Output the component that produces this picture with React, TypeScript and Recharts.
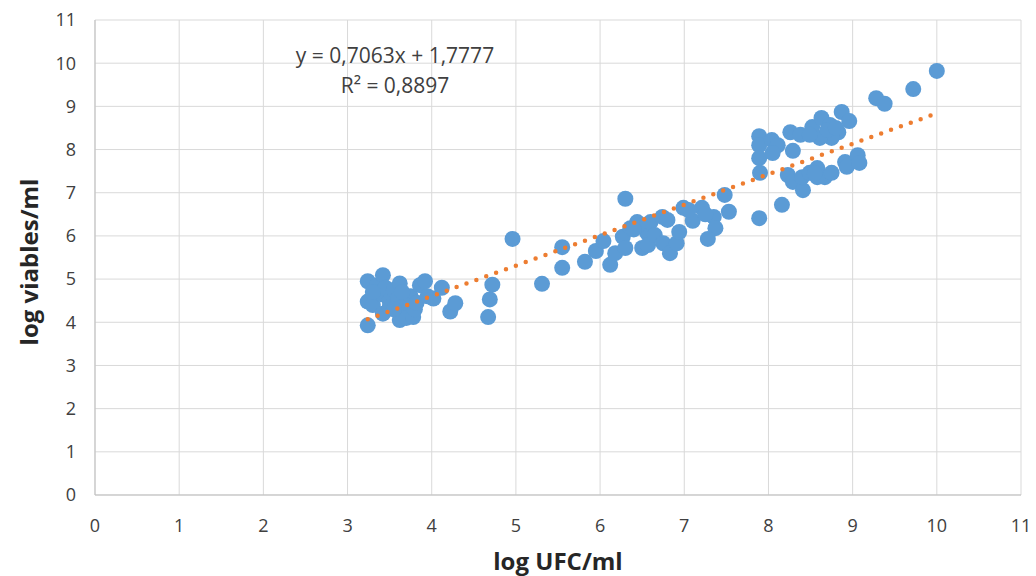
import React from "react";
import {
  ScatterChart,
  Scatter,
  XAxis,
  YAxis,
  CartesianGrid,
} from "recharts";

// log UFC/ml
const xValues = [
  3.24, 3.24, 3.24, 3.3, 3.35, 3.42, 3.4, 3.45, 3.42, 3.5, 3.55, 3.5, 3.6, 3.62, 3.62, 3.68, 3.7, 3.75,
  3.78, 3.8, 3.82, 3.86, 3.92, 3.95, 4.02, 4.12, 4.22, 4.28, 4.67, 4.69, 4.72, 3.3, 3.65, 3.55,
  4.96, 5.31, 5.55, 5.55, 5.82, 5.95, 6.04, 6.12, 6.18, 6.3, 6.27, 6.3, 6.36, 6.44, 6.5, 6.56, 6.6,
  6.57, 6.65, 6.74, 6.8, 6.75, 6.83, 6.91, 6.94, 6.99, 7.1, 7.21, 7.35, 7.37, 7.28, 7.48, 7.53,
  7.05, 7.25, 6.45, 6.4,
  10.0, 9.72, 9.28, 9.38, 7.89, 7.89, 7.89, 7.9, 7.89, 8.16, 8.04, 8.11, 8.05, 8.29, 8.26, 8.38,
  8.52, 8.63, 8.73, 8.87, 8.96, 8.83, 8.75, 8.61, 8.49, 8.23, 8.29, 8.41, 8.4, 8.49, 8.58, 8.58,
  8.67, 8.75, 8.91, 8.93, 9.06, 9.08, 8.7, 8.8, 8.55,
];
// log viables/ml
const yValues = [
  3.93, 4.95, 4.48, 4.4, 4.85, 5.09, 4.65, 4.8, 4.2, 4.5, 4.75, 4.35, 4.55, 4.9, 4.05, 4.4, 4.1, 4.6,
  4.12, 4.3, 4.45, 4.86, 4.95, 4.6, 4.55, 4.8, 4.25, 4.44, 4.12, 4.53, 4.87, 4.7, 4.7, 4.3,
  5.93, 4.89, 5.74, 5.26, 5.4, 5.65, 5.88, 5.33, 5.6, 6.86, 5.98, 5.72, 6.18, 6.32, 5.72, 6.07, 6.32,
  5.79, 6.02, 6.44, 6.37, 5.83, 5.6, 5.83, 6.09, 6.65, 6.35, 6.65, 6.44, 6.18, 5.93, 6.95, 6.56,
  6.6, 6.5, 6.25, 6.15,
  9.82, 9.4, 9.19, 9.06, 8.31, 8.1, 7.8, 7.46, 6.41, 6.72, 8.22, 8.1, 7.92, 7.97, 8.4, 8.34,
  8.52, 8.73, 8.57, 8.87, 8.66, 8.4, 8.27, 8.27, 8.34, 7.41, 7.25, 7.06, 7.36, 7.46, 7.57, 7.36,
  7.36, 7.46, 7.71, 7.6, 7.87, 7.69, 8.45, 8.5, 7.45,
];

// linear trendline end points
const trendX = [3.24, 10.0];
const trendY = [4.07, 8.84];

const ticks = [0, 1, 2, 3, 4, 5, 6, 7, 8, 9, 10, 11];

const points = xValues.map((x, i) => ({ x, y: yValues[i] }));
const trend = trendX.map((x, i) => ({ x, y: trendY[i] }));

const font = "'Open Sans', 'Noto Sans', sans-serif";
const textColor = "#404040";

const Dot = (props: any) => (
  <circle cx={props.cx} cy={props.cy} r={8} fill="#5b9bd5" />
);

export default function App() {
  return (
    <div style={{ position: "absolute", left: 0, top: 0, background: "#fff", fontFamily: font }}>
      <ScatterChart
        width={1036}
        height={576}
        margin={{ top: 20, right: 15, left: 0, bottom: 0 }}
      >
        <CartesianGrid stroke="#d9d9d9" strokeWidth={1} />
        <XAxis
          type="number"
          dataKey="x"
          domain={[0, 11]}
          ticks={ticks}
          interval={0}
          height={81}
          tickSize={0}
          tickMargin={24}
          axisLine={{ stroke: "#bfbfbf" }}
          tick={{ fontSize: 18, fill: textColor, fontFamily: font }}
        />
        <YAxis
          type="number"
          dataKey="y"
          domain={[0, 11]}
          ticks={ticks}
          interval={0}
          width={95}
          tickSize={0}
          tickMargin={19}
          axisLine={{ stroke: "#bfbfbf" }}
          tick={{ fontSize: 18, fill: textColor, fontFamily: font }}
        />
        <Scatter data={points} shape={Dot} isAnimationActive={false} />
        <Scatter
          data={trend}
          isAnimationActive={false}
          shape={() => <g />}
          line={{
            stroke: "#ed7d31",
            strokeWidth: 4.5,
            strokeDasharray: "0 10.5",
            strokeLinecap: "round",
          }}
        />
        <text x={395} y={63} textAnchor="middle" fontSize={21} fill={textColor} fontFamily={font}>
          y = 0,7063x + 1,7777
        </text>
        <text x={395} y={93} textAnchor="middle" fontSize={21} fill={textColor} fontFamily={font}>
          R² = 0,8897
        </text>
        <text
          x={558}
          y={570}
          textAnchor="middle"
          fontSize={24}
          fontWeight={700}
          fill="#262626"
          fontFamily={font}
        >
          log UFC/ml
        </text>
        <text
          x={38}
          y={262}
          transform="rotate(-90 38 262)"
          textAnchor="middle"
          fontSize={24}
          fontWeight={700}
          fill="#262626"
          fontFamily={font}
        >
          log viables/ml
        </text>
      </ScatterChart>
    </div>
  );
}
